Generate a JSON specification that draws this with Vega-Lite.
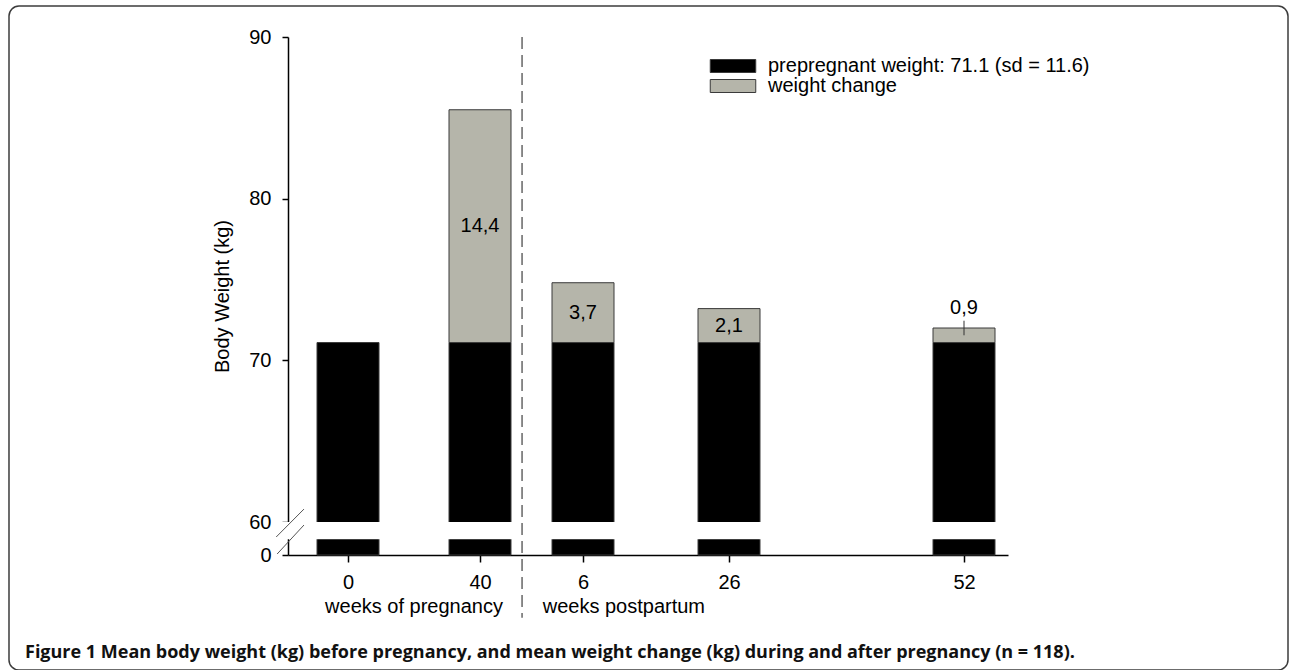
{
  "$schema": "https://vega.github.io/schema/vega-lite/v6.json",
  "width": 1279,
  "height": 664,
  "autosize": {"type": "none"},
  "padding": {"left": 9, "top": 6, "right": 2, "bottom": 0},
  "background": "white",
  "config": {
    "view": {"stroke": "#3c3c3c", "strokeWidth": 1.5, "cornerRadius": 10, "fill": "white"},
    "locale": {"number": {"decimal": ",", "thousands": ".", "grouping": [3], "currency": ["", ""]}},
    "font": "Liberation Sans",
    "axis": {
      "domainColor": "#000", "tickColor": "#000", "labelColor": "#000", "titleColor": "#000",
      "grid": false, "labelFont": "Liberation Sans", "titleFont": "Liberation Sans",
      "labelFontSize": 20, "titleFontSize": 20, "titleFontWeight": "normal",
      "domainWidth": 1.5, "tickWidth": 1.5
    }
  },
  "title": {
    "text": "Figure 1 Mean body weight (kg) before pregnancy, and mean weight change (kg) during and after pregnancy (n = 118).",
    "orient": "bottom", "frame": "group", "anchor": "start", "baseline": "alphabetic",
    "offset": -12, "dx": 16, "font": "Open Sans", "fontSize": 18, "fontWeight": "bold", "color": "#111"
  },
  "data": {"values": [
    {"timeline_week": 0, "component": "prepregnant weight: 71.1 (sd = 11.6)", "kg": 71.1},
    {"timeline_week": 40, "component": "prepregnant weight: 71.1 (sd = 11.6)", "kg": 71.1},
    {"timeline_week": 40, "component": "weight change", "kg": 14.4},
    {"timeline_week": 46, "component": "prepregnant weight: 71.1 (sd = 11.6)", "kg": 71.1},
    {"timeline_week": 46, "component": "weight change", "kg": 3.7},
    {"timeline_week": 66, "component": "prepregnant weight: 71.1 (sd = 11.6)", "kg": 71.1},
    {"timeline_week": 66, "component": "weight change", "kg": 2.1},
    {"timeline_week": 92, "component": "prepregnant weight: 71.1 (sd = 11.6)", "kg": 71.1},
    {"timeline_week": 92, "component": "weight change", "kg": 0.9}
  ]},
  "layer": [
    {
      "transform": [{"stack": "kg", "groupby": ["timeline_week"], "sort": [{"field": "component", "order": "ascending"}], "as": ["kg_start", "kg_end"]}],
      "mark": {"type": "bar", "width": 62, "stroke": "#3a3a3a", "strokeWidth": 1},
      "encoding": {
        "x": {
          "field": "timeline_week", "type": "quantitative",
          "scale": {"domain": [-18.2, 0, 40, 46, 66, 92, 96.87], "range": [279, 339, 471, 574, 720, 955, 999], "nice": false, "zero": false},
          "axis": {"values": [0, 40, 46, 66, 92], "labelExpr": "datum.value > 40 ? datum.value - 40 : datum.value", "title": null, "offset": -115, "tickSize": 7, "labelPadding": 10}
        },
        "y": {
          "field": "kg_start", "type": "quantitative", "title": "Body Weight (kg)",
          "scale": {"domain": [0, 60, 90], "range": [549, 516, 31], "nice": false, "zero": false},
          "axis": {"values": [0, 60, 70, 80, 90], "format": "d", "offset": -279, "tickSize": 6, "labelPadding": 11, "titlePadding": 16}
        },
        "y2": {"field": "kg_end"},
        "color": {
          "field": "component", "type": "nominal",
          "scale": {"domain": ["prepregnant weight: 71.1 (sd = 11.6)", "weight change"], "range": ["#000000", "#b5b5aa"]},
          "legend": {
            "orient": "none", "legendX": 714, "legendY": 50, "title": null,
            "symbolType": "M-3.5,-1H3.5V1H-3.5Z", "symbolSize": 169,
            "symbolStrokeColor": "#3a3a3a", "symbolStrokeWidth": 1, "symbolOpacity": 1,
            "labelFontSize": 20, "labelFont": "Liberation Sans", "labelColor": "#000",
            "labelOffset": 25, "rowPadding": 0, "padding": 0, "labelLimit": 600
          }
        }
      }
    },
    {
      "transform": [
        {"stack": "kg", "groupby": ["timeline_week"], "sort": [{"field": "component", "order": "ascending"}], "as": ["kg_start", "kg_end"]},
        {"filter": "datum.component == 'weight change' && datum.kg > 1"}
      ],
      "mark": {"type": "text", "fontSize": 20, "font": "Liberation Sans", "color": "#000", "baseline": "middle",
               "dy": {"expr": "(scale('y', datum.kg_start) - scale('y', datum.kg_end)) / 2"}},
      "encoding": {
        "x": {"field": "timeline_week", "type": "quantitative"},
        "y": {"field": "kg_end", "type": "quantitative"},
        "text": {"field": "kg", "type": "quantitative", "format": ".1f"}
      }
    },
    {
      "transform": [
        {"stack": "kg", "groupby": ["timeline_week"], "sort": [{"field": "component", "order": "ascending"}], "as": ["kg_start", "kg_end"]},
        {"filter": "datum.component == 'weight change' && datum.kg < 1"}
      ],
      "mark": {"type": "text", "fontSize": 20, "font": "Liberation Sans", "color": "#000", "baseline": "middle", "dy": -20},
      "encoding": {
        "x": {"field": "timeline_week", "type": "quantitative"},
        "y": {"field": "kg_end", "type": "quantitative"},
        "text": {"field": "kg", "type": "quantitative", "format": ".1f"}
      }
    },
    {
      "transform": [{"filter": "datum.component == 'weight change' && datum.kg < 1"}],
      "mark": {"type": "rule", "color": "#333", "strokeWidth": 1},
      "encoding": {
        "x": {"field": "timeline_week", "type": "quantitative"},
        "y": {"datum": 71.55},
        "y2": {"datum": 72.45}
      }
    },
    {
      "data": {"values": [{}]},
      "mark": {"type": "rect", "fill": "white"},
      "encoding": {"x": {"datum": -21}, "x2": {"datum": 96.87}, "y": {"datum": 28.5}, "y2": {"datum": 60}}
    },
    {
      "data": {"values": [{}]},
      "mark": {"type": "rule", "color": "#555", "strokeWidth": 1},
      "encoding": {"x": {"datum": -22.75}, "x2": {"datum": -13.95}, "y": {"datum": 32.7}, "y2": {"datum": 60.8}}
    },
    {
      "data": {"values": [{}]},
      "mark": {"type": "rule", "color": "#555", "strokeWidth": 1},
      "encoding": {"x": {"datum": -22.45}, "x2": {"datum": -13.95}, "y": {"datum": 1.8}, "y2": {"datum": 54.5}}
    },
    {
      "data": {"values": [{}]},
      "mark": {"type": "rule", "color": "#666", "strokeWidth": 1.5, "strokeDash": [12, 6]},
      "encoding": {"x": {"datum": 42.45}, "y": {"datum": 90}, "y2": {"datum": -114}}
    },
    {
      "data": {"values": [{}]},
      "mark": {"type": "text", "fontSize": 20, "font": "Liberation Sans", "color": "#000", "baseline": "middle"},
      "encoding": {"x": {"datum": 20}, "y": {"datum": -94.5}, "text": {"value": "weeks of pregnancy"}}
    },
    {
      "data": {"values": [{}]},
      "mark": {"type": "text", "fontSize": 20, "font": "Liberation Sans", "color": "#000", "baseline": "middle"},
      "encoding": {"x": {"datum": 51.6}, "y": {"datum": -94.5}, "text": {"value": "weeks postpartum"}}
    }
  ]
}
